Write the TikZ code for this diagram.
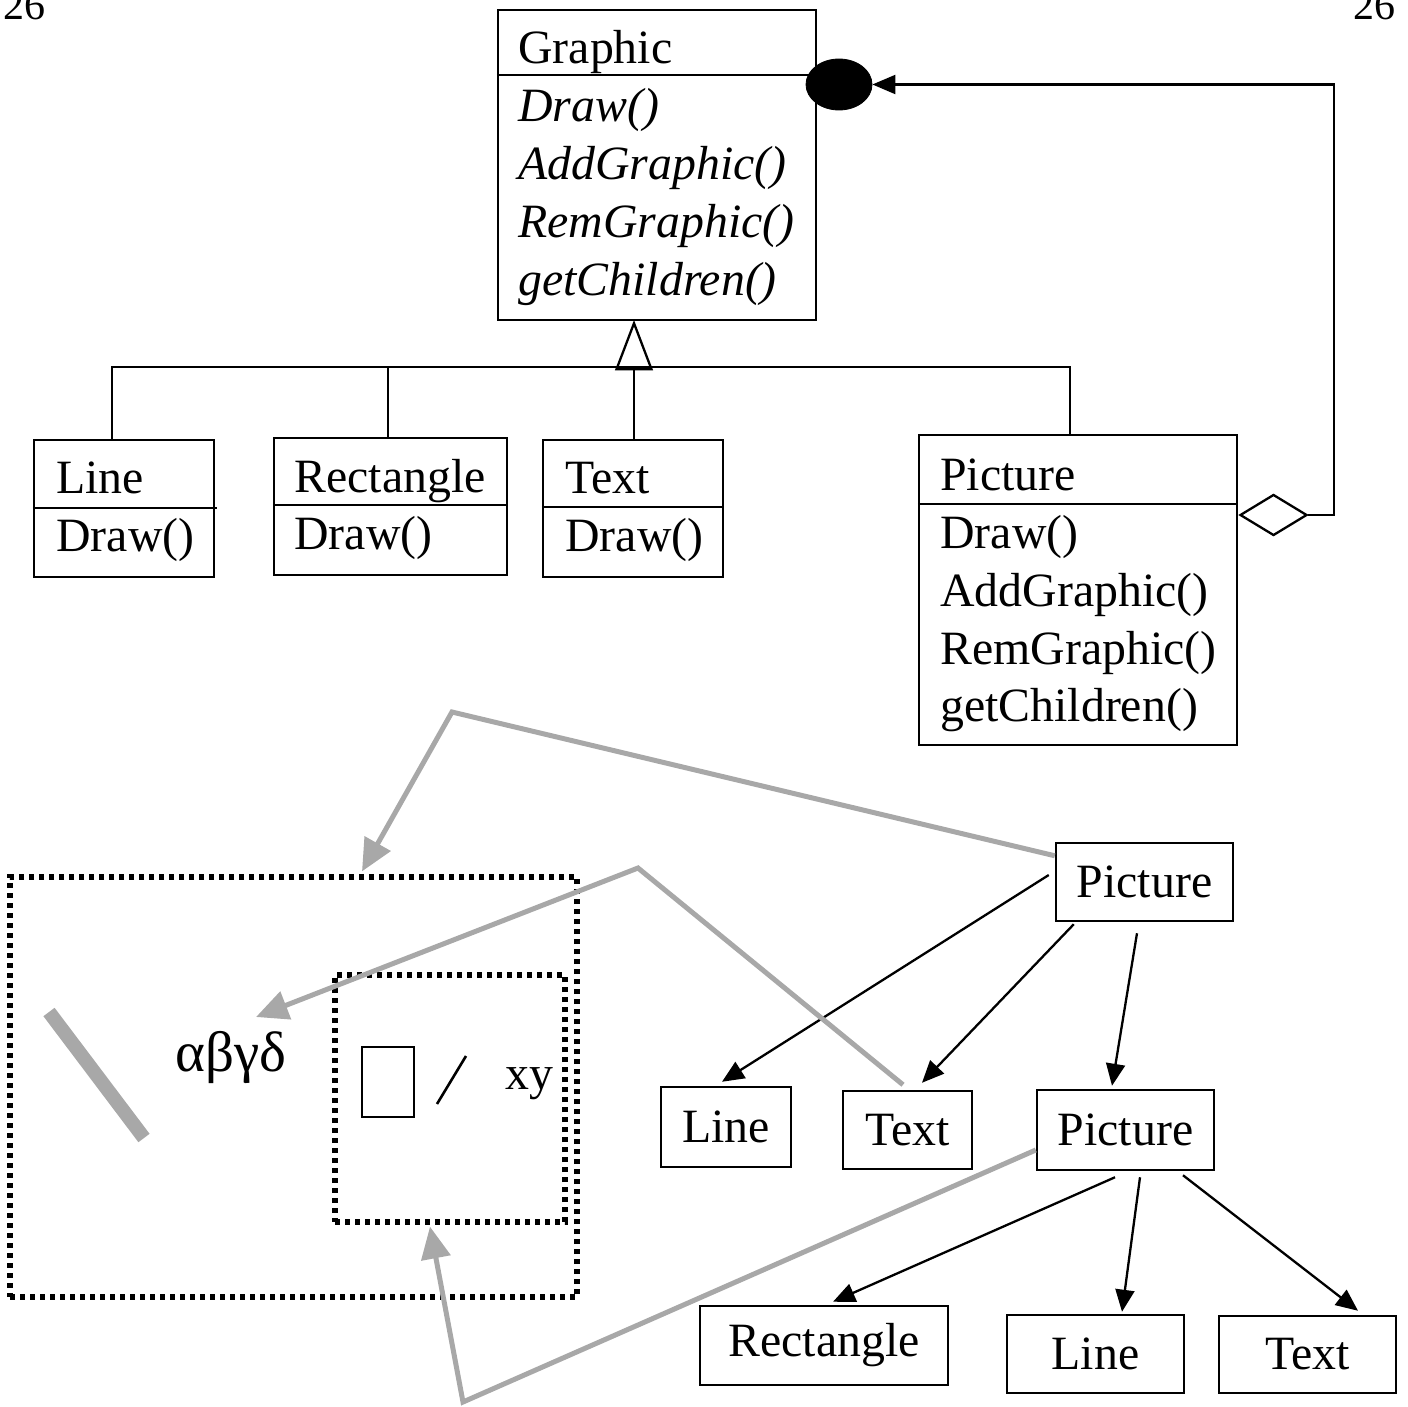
\documentclass[tikz,border=0pt]{standalone}
\usepackage{fontspec}
\setmainfont{Liberation Serif}
\usetikzlibrary{arrows.meta,shapes.geometric,calc}
\definecolor{lg}{HTML}{A8A8A8}
\begin{document}
\begin{tikzpicture}[x=0.5pt,y=-0.5pt,
  every node/.style={font=\fontsize{23.9}{28}\selectfont},
  umlbox/.style={draw,line width=1.25pt,inner sep=0pt},
  lbl/.style={anchor=base west,inner sep=0pt},
  itl/.style={anchor=base west,inner sep=0pt,font=\fontsize{23.9}{28}\selectfont\itshape},
  umlline/.style={line width=1.15pt},
  blk/.style={line width=1.15pt,-{Triangle[length=11pt,width=9.5pt]}},
  gry/.style={draw=lg,line width=2.5pt,-{Triangle[length=16pt,width=14.5pt]}},
  dotbox/.style={draw,line width=2.6pt,dash pattern=on 2.6pt off 2.4pt,inner sep=0pt}
]
\useasboundingbox (0,0) rectangle (1408,1407);

% page numbers
\node[lbl,font=\fontsize{21}{24}\selectfont] (pn1) at (3,20) {26};
\node[lbl,font=\fontsize{21}{24}\selectfont] (pn2) at (1353,20) {26};

% Graphic class
\node[umlbox,minimum width=159pt,minimum height=155pt] (g) at (657,165) {};
\draw[umlline] ($(g.north west)+(0,66)$) -- ($(g.north east)+(0,66)$);
\node[lbl] (gt) at (518,64) {Graphic};
\node[itl] (gm1) at (518,122) {Draw()};
\node[itl] (gm2) at (518,180) {AddGraphic()};
\node[itl] (gm3) at (518,238) {RemGraphic()};
\node[itl] (gm4) at (518,296) {getChildren()};

% filled ellipse
\node[ellipse,fill=black,draw=black,inner sep=0pt,minimum width=33pt,minimum height=25.5pt] (ell) at (839,84.5) {};

% Line class
\node[umlbox,minimum width=90pt,minimum height=68.5pt] (lineb) at (124,508.5) {};
\draw[umlline] ($(lineb.north west)+(0,69)$) -- ++(184,0);
\node[lbl] (lt) at (56,493) {Line};
\node[lbl] (lm) at (56,551) {Draw()};

% Rectangle class
\node[umlbox,minimum width=116.5pt,minimum height=68.5pt] (rectb) at (390.5,506.5) {};
\draw[umlline] ($(rectb.north west)+(0,68)$) -- ($(rectb.north east)+(0,68)$);
\node[lbl] (rt) at (294,492) {Rectangle};
\node[lbl] (rm) at (294,549) {Draw()};

% Text class
\node[umlbox,minimum width=90pt,minimum height=68.5pt] (textb) at (633,508.5) {};
\draw[umlline] ($(textb.north west)+(0,68)$) -- ($(textb.north east)+(0,68)$);
\node[lbl] (tt) at (565,493) {Text};
\node[lbl] (tm) at (565,551) {Draw()};

% Picture class
\node[umlbox,minimum width=159pt,minimum height=155pt] (picb) at (1078,590) {};
\draw[umlline] ($(picb.north west)+(0,70)$) -- ($(picb.north east)+(0,70)$);
\node[lbl] (pt) at (940,490) {Picture};
\node[lbl] (pm1) at (940,548) {Draw()};
\node[lbl] (pm2) at (940,606) {AddGraphic()};
\node[lbl] (pm3) at (940,664) {RemGraphic()};
\node[lbl] (pm4) at (940,721) {getChildren()};

% generalization
\coordinate (apex) at ($(g.south)+(-23,2)$);
\coordinate (tb) at ($(apex)+(0,46)$);
\draw[umlline,line join=miter] (apex) -- ++(-17.5,46) -- ++(35,0) -- cycle;
\draw[umlline] ($(lineb.north)+(-12,0)$) -- ++(0,-72) -- ($(picb.north)+(-8,-67)$) -- ($(picb.north)+(-8,0)$);
\draw[umlline] ($(rectb.north)+(-2.5,0)$) -- ++(0,-70);
\draw[umlline] (tb) -- (tb |- textb.north);

% aggregation
\node[diamond,draw,line width=1.15pt,inner sep=0pt,minimum width=33.5pt,minimum height=20.5pt] (dia) at (1273.5,515) {};
\draw[umlline,-{Triangle[length=11.5pt,width=9.5pt]}] (dia.east) -- ++(26,0) |- (ell.east);

% object diagram nodes
\node[umlbox,minimum width=88.5pt,minimum height=39pt] (pic1) at (1144.5,882) {Picture};
\node[umlbox,minimum width=65pt,minimum height=40pt] (line1) at (726,1127) {Line};
\node[umlbox,minimum width=64.5pt,minimum height=39pt] (text1) at (907.5,1130) {Text};
\node[umlbox,minimum width=88.5pt,minimum height=40pt] (pic2) at (1125.5,1130) {Picture};
\node[umlbox,minimum width=124pt,minimum height=39.5pt] (rect2) at (824,1345.5) {Rectangle};
\node[umlbox,minimum width=88.5pt,minimum height=39pt] (line2) at (1095.5,1354) {Line};
\node[umlbox,minimum width=88.5pt,minimum height=38.5pt] (text2) at (1307.5,1354.5) {Text};

\draw[blk] ($(pic1.west)+(-6,-7)$) -- ($(line1.north)+(-4,-4)$);
\draw[blk] ($(pic1.south west)+(19,2)$) -- ($(text1.north)+(14.5,-7)$);
\draw[blk] ($(pic1.south)+(-7.5,11)$) -- ($(pic2.north)+(-13.5,-3)$);
\draw[blk] ($(pic2.south)+(-10.5,6)$) -- ($(rect2.north)+(9,-3)$);
\draw[blk] ($(pic2.south)+(14.5,6)$) -- ($(line2.north)+(26.5,-2)$);
\draw[blk] ($(pic2.south)+(57.5,4)$) -- ($(text2.north)+(50.5,-4)$);

% rendered picture
\node[dotbox,minimum width=283.5pt,minimum height=210pt] (outer) at (293.5,1087) {};
\node[dotbox,minimum width=115pt,minimum height=123.5pt] (inner) at (450,1098.5) {};
\draw[lg,line width=7pt] (49,1012) -- (144,1138);
\node[lbl,font=\fontsize{28.5}{32}\selectfont] (greek) at (175,1071) {αβγδ};
\draw[line width=1pt] (362,1047) rectangle (414,1117);
\draw[line width=1.3pt] (437,1104) -- (466,1056);
\node[lbl] (xy) at (505,1089) {xy};

% gray arrows
\coordinate (g2end) at (256,1017);
\draw[gry] ($(pic1.north west)+(0,14)$) -- (452,712) -- ($(outer.north)+(68.5,-3)$);
\draw[gry] ($(text1.north)+(-4.5,-5)$) -- (638,868) -- (g2end);
\draw[gry] ($(pic2.west)+(0,20)$) -- (463,1402) -- ($(inner.south)+(-20,2)$);
\end{tikzpicture}
\end{document}
